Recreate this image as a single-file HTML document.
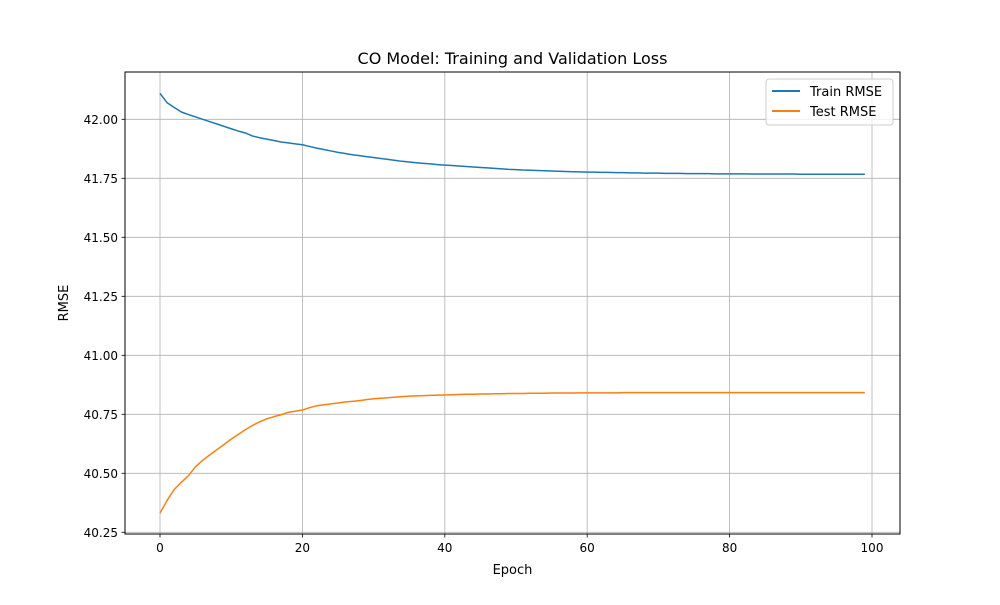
<!DOCTYPE html>
<html><head><meta charset="utf-8"><style>
body{margin:0;background:#fff;}
svg text{font-family:"DejaVu Sans","Liberation Sans",sans-serif;fill:#000;}
</style></head><body>
<svg id="chart" width="1000" height="600" xmlns="http://www.w3.org/2000/svg">
<rect width="1000" height="600" fill="#fff"/>
<text x="512.5" y="64" font-size="16" text-anchor="middle">CO Model: Training and Validation Loss</text>
<g id="grid"></g>
<g id="series"></g>
<rect x="125" y="72" width="775" height="462" fill="none" stroke="#000" stroke-width="1"/>
<g id="ticks"></g>
<text x="512.5" y="574" font-size="13" text-anchor="middle">Epoch</text>
<text transform="translate(68,303) rotate(-90)" font-size="13" text-anchor="middle">RMSE</text>
<g>
<rect x="766" y="79" width="127" height="46" rx="3" fill="#fff" fill-opacity="0.8" stroke="#ccc"/>
<line x1="772" y1="91" x2="800" y2="91" stroke="#1f77b4" stroke-width="2"/>
<text x="810" y="96" font-size="13">Train RMSE</text>
<line x1="772" y1="111" x2="800" y2="111" stroke="#ff7f0e" stroke-width="2"/>
<text x="810" y="116" font-size="13">Test RMSE</text>
</g>
</svg>
<script>
const xTicks=[0,20,40,60,80,100];
const yTicks=[40.25,40.50,40.75,41.00,41.25,41.50,41.75,42.00];
const trainRmse=[42.11,42.07,42.05,42.031,42.02,42.01,42.0,41.99,41.98,41.97,41.96,41.95,41.942,41.929,41.922,41.916,41.91,41.904,41.9,41.896,41.892,41.885,41.878,41.872,41.866,41.86,41.855,41.85,41.846,41.842,41.838,41.834,41.83,41.826,41.822,41.819,41.816,41.813,41.811,41.808,41.806,41.804,41.802,41.8,41.798,41.796,41.794,41.792,41.79,41.788,41.787,41.785,41.784,41.783,41.782,41.781,41.78,41.779,41.778,41.777,41.776,41.776,41.775,41.775,41.774,41.774,41.773,41.773,41.772,41.772,41.772,41.771,41.771,41.771,41.77,41.77,41.77,41.77,41.769,41.769,41.769,41.769,41.769,41.768,41.768,41.768,41.768,41.768,41.768,41.768,41.767,41.767,41.767,41.767,41.767,41.767,41.767,41.767,41.767,41.767];
const testRmse=[40.331,40.385,40.432,40.462,40.49,40.528,40.555,40.578,40.6,40.622,40.645,40.665,40.685,40.703,40.718,40.731,40.74,40.748,40.758,40.763,40.768,40.778,40.786,40.79,40.794,40.798,40.802,40.805,40.808,40.812,40.816,40.818,40.82,40.823,40.825,40.827,40.828,40.829,40.83,40.831,40.832,40.833,40.834,40.835,40.835,40.836,40.836,40.837,40.837,40.838,40.838,40.838,40.839,40.839,40.839,40.84,40.84,40.84,40.84,40.841,40.841,40.841,40.841,40.841,40.841,40.842,40.842,40.842,40.842,40.842,40.842,40.842,40.842,40.842,40.842,40.842,40.842,40.842,40.842,40.842,40.842,40.842,40.842,40.842,40.842,40.842,40.842,40.842,40.842,40.842,40.842,40.842,40.842,40.842,40.842,40.842,40.842,40.842,40.842,40.842];
const NS='http://www.w3.org/2000/svg';
function xs(v){return 160+v*7.12;}
function ys(v){return 119.3-(v-42)*236;}
function mk(tag,attrs,parent){const e=document.createElementNS(NS,tag);for(const k in attrs)e.setAttribute(k,attrs[k]);parent.appendChild(e);return e;}
const grid=document.getElementById('grid'),ticks=document.getElementById('ticks'),series=document.getElementById('series');
xTicks.forEach(t=>{const x=xs(t);
 const g=mk('line',{x1:x,x2:x,y1:72,y2:534,stroke:'#b0b0b0','stroke-width':0.8},grid);
 
 
 mk('line',{x1:x,x2:x,y1:534,y2:537.5,stroke:'#000','stroke-width':0.8},ticks);
 const l=mk('text',{x:x,y:552,'font-size':12,'text-anchor':'middle'},ticks);l.textContent=t;
 
 
});
yTicks.forEach(t=>{const y=ys(t);
 const g=mk('line',{x1:125,x2:900,y1:y,y2:y,stroke:'#b0b0b0','stroke-width':0.8},grid);
 
 
 mk('line',{x1:121.5,x2:125,y1:y,y2:y,stroke:'#000','stroke-width':0.8},ticks);
 const l=mk('text',{x:118,y:y+4.5,'font-size':12,'text-anchor':'end'},ticks);l.textContent=t.toFixed(2);
 
 
});
function line(arr,color,name){
 const p=mk('polyline',{points:arr.map((v,i)=>xs(i)+','+ys(v)).join(' '),fill:'none',stroke:color,'stroke-width':1.5,'stroke-linejoin':'round'},series);
 
 
}
line(trainRmse,'#1f77b4','train-rmse-line');
line(testRmse,'#ff7f0e','test-rmse-line');
</script>
</body></html>
